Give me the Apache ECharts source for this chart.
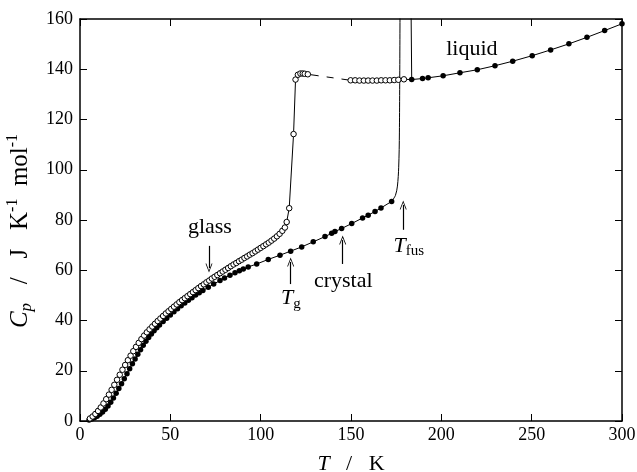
<!DOCTYPE html>
<html>
<head>
<meta charset="utf-8">
<script src="https://cdn.jsdelivr.net/npm/echarts@6/dist/echarts.min.js"></script>
<style>html,body{margin:0;padding:0;background:#fff}#c{width:637px;height:472px}</style>
</head>
<body>
<div id="c"></div>
<script>
// ---- data ----
const xTicks = [0, 50, 100, 150, 200, 250, 300];
const yTicks = [0, 20, 40, 60, 80, 100, 120, 140, 160];

const crystalT = [5,6.5,8,9.5,11,12.5,14,15.5,17,18.5,20,21.5,23,24.5,26,27.5,29,30.5,32,33.5,35,36.5,38,39.5,41,42.5,44,46,48,50,52,54,56,58,60,62,64,66,68,71,74,77.5,80,83,85.8,88.2,90.4,93.1,97.8,104.2,110.7,116.6,122.7,129.1,135.6,139.3,141.1,144.8,150.4,156.4,159.5,163.3,166.6,172.5];
const crystalCp = [0.4,0.8,1.3,1.9,2.7,3.6,4.7,6.0,7.5,9.2,11.0,12.9,14.8,16.8,18.8,20.8,22.8,24.7,26.6,28.4,30.1,31.7,33.2,34.6,35.9,37.1,38.2,39.6,40.9,42.2,43.5,44.7,45.9,47.0,48.1,49.1,50.1,51.0,51.9,53.2,54.5,55.9,56.9,58.0,59.0,59.8,60.5,61.3,62.5,64.3,66.0,67.6,69.3,71.3,73.4,74.7,75.4,76.6,78.6,80.8,81.9,83.4,84.8,87.4];

// steep rise of crystal curve at fusion (line only)
const fusionRiseT = [172.5,174.6,175.7,176.4,176.8,177.2];
const fusionRiseCp = [87.4,89.8,93.5,101,115,175];

const glassT = [5.5,7,8.5,10,11.5,13,14.5,16,17.5,19,20.5,22,23.5,25,26.5,28,29.5,31,32.5,34,35.5,37,38.5,40,41.5,43,44.5,46,47.5,49,50.5,52,53.5,55,56.5,58,59.5,61,62.5,64,65.5,67,68.5,70,71.5,73,74.5,76,77.5,79,80.5,82,83.5,85,86.5,88,89.5,91,92.5,94,95.5,97,98.5,100,101.5,103,104.5,106,107.5,109,110.5,112,113.4,114.4,115.8,118.2,119.3,120.6,122,123.3,124.4,126.1];
const glassCp = [1.0,1.8,2.8,4.0,5.4,7.0,8.7,10.5,12.4,14.4,16.4,18.4,20.4,22.3,24.2,26.0,27.8,29.5,31.1,32.6,34.0,35.3,36.5,37.6,38.7,39.8,40.8,41.8,42.8,43.7,44.6,45.5,46.4,47.3,48.1,48.9,49.7,50.5,51.3,52.1,52.9,53.7,54.4,55.2,55.9,56.7,57.4,58.1,58.8,59.5,60.2,60.9,61.6,62.3,62.9,63.6,64.2,64.9,65.5,66.2,66.8,67.5,68.2,68.9,69.6,70.3,71.0,71.8,72.6,73.5,74.5,75.7,77.0,79.2,84.7,114.2,135.9,137.8,138.3,138.3,138.2,138.0];

// dashed gap between glass-transition data and supercooled liquid
const gapT = [126.1, 132.0, 149.8];
const gapCp = [138.0, 137.4, 135.6];

const supercooledT = [149.8,152.3,154.7,157.1,159.5,161.9,164.3,166.7,169.1,171.5,173.9,176.2,179.3];
const supercooledCp = [135.6,135.6,135.5,135.5,135.5,135.5,135.5,135.6,135.6,135.6,135.7,135.8,136.0];

// connector to liquid and vertical fusion line (line only)
const meltLineT = [179.3, 183.6, 183.1];
const meltLineCp = [136.0, 135.9, 175];

const liquidT = [183.6,189.6,192.7,201,210.3,219.9,229.7,239.5,250.3,260.5,270.6,280.6,290.4,300];
const liquidCp = [135.9,136.3,136.6,137.4,138.6,139.8,141.4,143.2,145.4,147.7,150.1,152.7,155.4,158.1];

// annotations (data coordinates)
const labelTexts = ['glass', '{i|T}{s|g}', 'crystal', '{i|T}{s|fus}', 'liquid'];
const labelT = [71.9, 116.7, 145.7, 182.0, 216.9];
const labelCp = [77.3, 48.8, 55.5, 69.7, 147.9];
const arrowT = [71.4, 116.6, 145.4, 178.9];
const arrowFromCp = [69.7, 54.5, 62.5, 76.1];
const arrowToCp = [60.9, 63.3, 72.0, 86.0];

// ---- chart ----
const zip = (a, b) => a.map((v, i) => [v, b[i]]);
const FONT = '"Liberation Serif", "DejaVu Serif", serif';
const BLACK = '#000';

const richLabel = {
  i: { fontFamily: FONT, fontStyle: 'italic', fontSize: 22, color: BLACK, lineHeight: 26, verticalAlign: 'middle' },
  s: { fontFamily: FONT, fontSize: 15, color: BLACK, lineHeight: 26, verticalAlign: 'bottom' },
  n: { fontFamily: FONT, fontSize: 22, color: BLACK, lineHeight: 26 }
};
const richY = {
  i: { fontFamily: FONT, fontStyle: 'italic', fontSize: 25, color: BLACK, lineHeight: 30 },
  s: { fontFamily: FONT, fontStyle: 'italic', fontSize: 17, color: BLACK, lineHeight: 30, verticalAlign: 'bottom' },
  n: { fontFamily: FONT, fontSize: 25, color: BLACK, lineHeight: 30 },
  u: { fontFamily: FONT, fontSize: 16, color: BLACK, lineHeight: 30, verticalAlign: 'top' }
};

const axisCommon = {
  type: 'value',
  axisLine: { show: true, onZero: false, lineStyle: { color: BLACK, width: 1.5 } },
  axisTick: { show: true, inside: true, length: 7, lineStyle: { color: BLACK, width: 1 } },
  splitLine: { show: false }
};

const symbolFilled = { color: BLACK, opacity: 1 };
const symbolOpen = { color: '#fff', borderColor: BLACK, borderWidth: 1, opacity: 1 };

const chart = echarts.init(document.getElementById('c'), null, { renderer: 'canvas' });

const option = {
  animation: false,
  backgroundColor: '#fff',
  grid: { left: 80, right: 15, top: 19, bottom: 51, outerBoundsMode: 'none', containLabel: false },
  xAxis: [
    Object.assign({}, axisCommon, {
      position: 'bottom', min: xTicks[0], max: xTicks[xTicks.length - 1], interval: xTicks[1] - xTicks[0],
      axisLabel: { color: BLACK, fontFamily: FONT, fontSize: 18, margin: 5 },
      name: '{i|T}{n|   /   K}', nameLocation: 'middle', nameGap: 30,
      nameTextStyle: { rich: richLabel }
    }),
    Object.assign({}, axisCommon, {
      position: 'top', min: xTicks[0], max: xTicks[xTicks.length - 1], interval: xTicks[1] - xTicks[0],
      axisLabel: { show: false }
    })
  ],
  yAxis: [
    Object.assign({}, axisCommon, {
      position: 'left', min: yTicks[0], max: yTicks[yTicks.length - 1], interval: yTicks[1] - yTicks[0],
      axisLabel: { color: BLACK, fontFamily: FONT, fontSize: 18, margin: 7 },
      name: '{i|C}{s|p}{n|   /   J   K}{u|-1}{n|  mol}{u|-1}', nameLocation: 'middle', nameGap: 29, nameRotate: 90,
      nameTextStyle: { rich: richY, padding: [0, 22, 0, 0] }
    }),
    Object.assign({}, axisCommon, {
      position: 'right', min: yTicks[0], max: yTicks[yTicks.length - 1], interval: yTicks[1] - yTicks[0],
      axisLabel: { show: false }
    })
  ],
  series: [
    {
      name: 'crystal', type: 'line', data: zip(crystalT, crystalCp),
      symbol: 'circle', symbolSize: 5.5, itemStyle: symbolFilled,
      lineStyle: { color: BLACK, width: 1 }, z: 3
    },
    {
      name: 'fusionRise', type: 'line', data: zip(fusionRiseT, fusionRiseCp),
      symbol: 'none', smooth: 0.3, lineStyle: { color: BLACK, width: 1 }, z: 2
    },
    {
      name: 'glass', type: 'line', data: zip(glassT, glassCp),
      symbol: 'circle', symbolSize: 5.5, itemStyle: symbolOpen,
      lineStyle: { color: BLACK, width: 1 }, z: 4
    },
    {
      name: 'gap', type: 'line', data: zip(gapT, gapCp),
      symbol: 'none', lineStyle: { color: BLACK, width: 1, type: [11, 8, 7, 8] }, z: 2
    },
    {
      name: 'meltLine', type: 'line', data: zip(meltLineT, meltLineCp),
      symbol: 'none', lineStyle: { color: BLACK, width: 1 }, z: 2
    },
    {
      name: 'supercooled', type: 'line', data: zip(supercooledT, supercooledCp),
      symbol: 'circle', symbolSize: 5.5, itemStyle: symbolOpen,
      lineStyle: { color: BLACK, width: 1 }, z: 4
    },
    {
      name: 'liquid', type: 'line', data: zip(liquidT, liquidCp),
      symbol: 'circle', symbolSize: 5.5, itemStyle: symbolFilled,
      lineStyle: { color: BLACK, width: 1 }, z: 3
    },
    {
      name: 'annotations', type: 'scatter', symbolSize: 0, z: 5, silent: true,
      itemStyle: { opacity: 1, color: BLACK },
      data: labelTexts.map((t, i) => ({
        value: [labelT[i], labelCp[i]],
        label: { show: true, position: 'inside', formatter: t, color: BLACK,
                 fontFamily: FONT, fontSize: 22, rich: richLabel }
      }))
    },
    {
      name: 'arrows', type: 'line', data: [], symbol: 'none', z: 5, silent: true,
      markLine: {
        silent: true, animation: false,
        symbol: ['none', 'path://M5,0 L10,13 L8.8,13 L5,3 L1.2,13 L0,13 Z'],
        symbolSize: [7, 9],
        label: { show: false },
        itemStyle: { color: BLACK, opacity: 1 },
        lineStyle: { color: BLACK, width: 1.2, type: 'solid', opacity: 1 },
        emphasis: { disabled: true },
        data: arrowT.map((t, i) => [
          { coord: [t, arrowFromCp[i]] },
          { coord: [t, arrowToCp[i]] }
        ])
      }
    }
  ]
};
chart.setOption(option);
</script>
</body>
</html>
